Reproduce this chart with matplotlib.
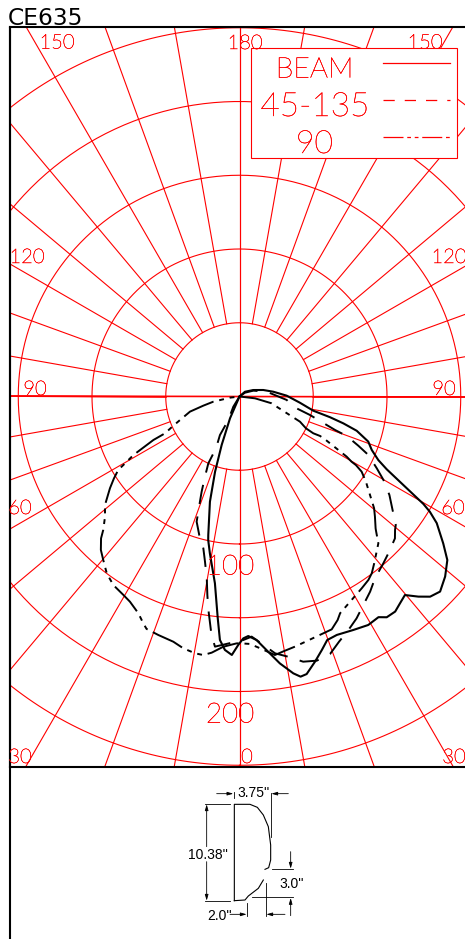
import numpy as np
import matplotlib
matplotlib.use('Agg')
import matplotlib.pyplot as plt
import matplotlib.patheffects as pe

# ---- data: angle (degrees from nadir, + = right) and candela ----
beam_theta = [131.1,115.2,105.3,98.1,91.0,84.1,79.1,77.1,75.5,73.7,70.7,68.0,65.4,63.7,62.0,59.7,58.8,57.3,54.2,51.8,48.8,45.8,43.6,41.8,39.8,37.8,35.9,33.7,32.2,29.4,26.0,22.2,19.8,18.0,15.9,13.6,12.3,11.0,8.6,6.4,4.0,2.1,0.9,-0.3,-1.7,-3.3,-4.6,-5.6,-7.5,-10.7,-12.3,-12.7,-15.7,-18.0,-20.2,-23.5]
beam_cd = [4.9,10.3,16.7,23.1,32.0,41.2,51.0,63.0,72.7,82.8,92.5,96.7,103.5,111.3,123.2,144.4,150.9,158.9,170.3,179.3,185.3,189.7,187.4,182.0,175.2,177.5,180.0,179.9,176.8,177.8,176.1,174.6,175.5,180.7,186.9,193.6,194.4,191.2,183.0,174.1,165.5,162.5,164.0,168.5,175.3,172.1,165.6,151.1,127.7,108.2,99.6,96.3,74.1,53.6,35.0,16.1]
mid_theta = [124.9,112.9,100.1,85.8,79.3,75.3,73.4,70.7,69.8,67.5,65.6,62.4,59.9,56.7,53.6,50.6,49.4,47.6,43.5,40.8,36.7,33.8,30.5,27.8,25.0,22.1,19.4,16.3,13.5,10.6,7.9,5.5,2.9,0.9,-5.6,-6.7,-7.5,-8.4,-9.2,-10.2,-11.8,-13.4,-16.2,-18.9,-20.3,-21.7,-23.3,-25.0,-24.4,-26.9,-25.4,-31.2]
mid_cd = [4.5,10.2,18.7,32.1,37.1,49.4,55.8,68.6,77.4,87.2,95.9,105.0,112.8,121.6,128.8,137.1,138.9,142.7,146.6,149.3,153.7,159.2,164.8,170.1,174.7,179.4,185.0,186.6,184.9,179.5,175.8,169.2,163.0,165.1,170.4,162.8,154.0,145.2,136.3,125.3,114.4,105.8,97.8,89.7,78.4,69.4,59.2,50.0,38.6,29.3,17.6,8.1]
cross_theta = [83.3,78.0,74.7,67.4,64.4,63.5,63.9,63.4,60.7,59.8,59.5,58.4,56.0,50.3,48.4,45.9,45.6,43.4,38.9,36.8,35.1,32.5,24.9,23.7,21.6,12.5,10.1,7.8,4.7,2.4,0.1,-0.7,-3.7,-6.2,-8.0,-9.8,-12.6,-15.1,-18.8,-21.8,-23.0,-25.0,-28.1,-30.3,-33.8,-36.9,-39.8,-42.1,-44.3,-45.6,-48.2,-51.1,-54.7,-56.9,-58.8,-59.7,-61.1,-63.2,-63.7,-66.2,-68.4,-73.0,-75.8,-78.8,-83.0]
cross_cd = [10.6,22.3,26.1,44.4,50.0,55.9,60.8,64.8,83.3,87.9,91.6,97.2,103.4,118.6,122.8,128.5,129.4,137.0,145.4,149.7,152.0,154.2,162.0,165.5,169.8,173.7,175.1,176.9,171.3,167.9,167.3,167.4,170.0,174.7,177.0,176.7,174.9,172.2,170.8,169.7,167.0,162.2,157.7,155.9,153.8,149.9,144.3,140.2,134.4,129.3,122.3,117.2,107.6,101.6,96.1,89.9,82.2,65.4,56.3,49.0,43.4,35.1,25.3,18.1,6.5]
ring_values = [50, 100, 150, 200, 250]
spoke_angles = list(range(0, 360, 10))
legend_labels = ['BEAM', '45-135', '90']

RED = '#ff0000'
FONT = 'Lato'
W, H = 465, 939
CX, CY, K = 239.5, 396.5, 1.475

def polar(theta, r):
    t = np.radians(np.asarray(theta, float))
    r = np.asarray(r, float)
    return r * np.sin(t), -r * np.cos(t)

fig = plt.figure(figsize=(W/100, H/100), dpi=100, facecolor='white')

# polar grid axes: units are candela
ax = fig.add_axes([10/W, (H-767)/H, 455/W, 740/H])
ax.set_xlim((10-CX)/K, (465-CX)/K)
ax.set_ylim((CY-767)/K, (CY-27)/K)
ax.set_xticks([]); ax.set_yticks([])
for s in ('left', 'top', 'bottom'):
    ax.spines[s].set_color('black'); ax.spines[s].set_linewidth(1.5)
ax.spines['right'].set_visible(False)

a = np.linspace(0, 360, 361)
for rv in ring_values:
    x, y = polar(a, np.full_like(a, rv))
    ax.plot(x, y, color=RED, lw=0.8, zorder=1)
for ang in spoke_angles:
    x, y = polar([ang, ang], [50, 600])
    lw = 1.2 if ang in (90, 270) else 0.8
    ax.plot(x, y, color=RED, lw=lw, zorder=1)
# the two main axes also cross the hole
x, y = polar([90, 270], [300, 300])
ax.plot(x, y, color=RED, lw=1.2, zorder=1)
x, y = polar([0, 180], [300, 300])
ax.plot(x, y, color=RED, lw=0.8, zorder=1)

# curves
def curve(th, cd):
    return polar([th[0]] + th + [th[-1]], [0] + cd + [0])

x, y = curve(beam_theta, beam_cd)
ax.plot(x, y, color='black', lw=1.5, zorder=3, solid_joinstyle='round')
x, y = curve(mid_theta, mid_cd)
ax.plot(x, y, color='black', lw=1.4, zorder=3, dashes=(10, 6.5))
x, y = curve(cross_theta, cross_cd)
ax.plot(x, y, color='black', lw=1.4, zorder=3, dashes=(17, 3, 2.5, 3, 2.5, 3))

# overlay in pixel coordinates
ov = fig.add_axes([0, 0, 1, 1], facecolor='none')
ov.set_xlim(0, W); ov.set_ylim(H, 0); ov.axis('off')

ov.plot([10, 10], [27, 939], color='black', lw=1.5, zorder=5, solid_capstyle='butt')
ov.text(8, 25, 'CE635', fontsize=16.8, family='DejaVu Sans', color='black', ha='left', va='baseline')

thin = [pe.withStroke(linewidth=0.3, foreground=RED)]
def lab(x, y, s, size):
    ov.text(x, y, s, color=RED, fontsize=size, family=FONT, fontweight='light',
            ha='center', va='center', zorder=7, path_effects=thin)

ov.add_patch(plt.Rectangle((251, 47.5), 205.5, 110.5, fc='white', ec=RED, lw=0.8, zorder=4))
for (px, py, s) in [(57, 43.5, '150'), (245, 44, '180'), (425, 43.5, '150'),
                    (27, 258, '120'), (449, 258, '120'), (35, 390, '90'), (444, 390, '90'),
                    (20, 509, '60'), (453, 509, '60'), (20, 758, '30'), (454, 758, '30'), (247, 758, '0')]:
    lab(px, py, s, 14.5)
lab(230, 567, '100', 20); lab(230, 715, '200', 20)
lab(314.5, 70, legend_labels[0], 20.5)
lab(315, 107, legend_labels[1], 24)
lab(314.5, 144.5, legend_labels[2], 23)
ov.plot([383, 450], [62.5, 62.5], color=RED, lw=0.9, zorder=5)
ov.plot([383, 450], [99.5, 99.5], color=RED, lw=0.9, zorder=5, dashes=(9, 8))
ov.plot([383, 450], [137, 137], color=RED, lw=0.9, zorder=5, dashes=(16, 3, 3, 3, 3, 3))

# fixture section drawing (schematic)
BL = 'black'
def zz(p):
    return [170 + q[0]/3 for q in p], [770 + q[1]/3 for q in p]
outline_top = [(193,392),(193,103),(240,103),(262,112),(280,135),(295,170),(302,225),(302,270),(296,293),(285,298)]
outline_bot = [(193,392),(225,390),(235,378),(265,355),(280,330)]
ext = [[(105,103),(180,103)], [(105,392),(180,392)], [(193,65),(193,85)], [(302,68),(302,200)],
       [(305,298),(368,298)], [(245,382),(368,382)], [(287,340),(287,437)], [(232,400),(232,437)]]
for p in [outline_top, outline_bot]:
    ov.plot(*zz(p), color=BL, lw=0.8)
for p in ext:
    ov.plot(*zz(p), color=BL, lw=0.6)
arrows = [((140,71),(190,71)), ((355,71),(304,71)), ((110,230),(110,103)), ((110,275),(110,392)),
          ((362,245),(362,296)), ((362,437),(362,384)), ((345,433),(289,433)), ((180,433),(230,433))]
for s, e in arrows:
    (x0, x1), (y0, y1) = zz([s, e])
    ov.annotate('', xy=(x1, y1), xytext=(x0, y0),
                arrowprops=dict(arrowstyle='-|>,head_length=0.35,head_width=0.1', lw=0.6, color=BL,
                                shrinkA=0, shrinkB=0))
for (px, py, s) in [(253.5, 793, "3.75''"), (208, 855, "10.38''"), (292, 884, "3.0''"), (220, 916, "2.0''")]:
    ov.text(px, py, s, fontsize=10, family='Liberation Sans', color=BL, ha='center', va='center')

fig.savefig('out.png', dpi=100)
